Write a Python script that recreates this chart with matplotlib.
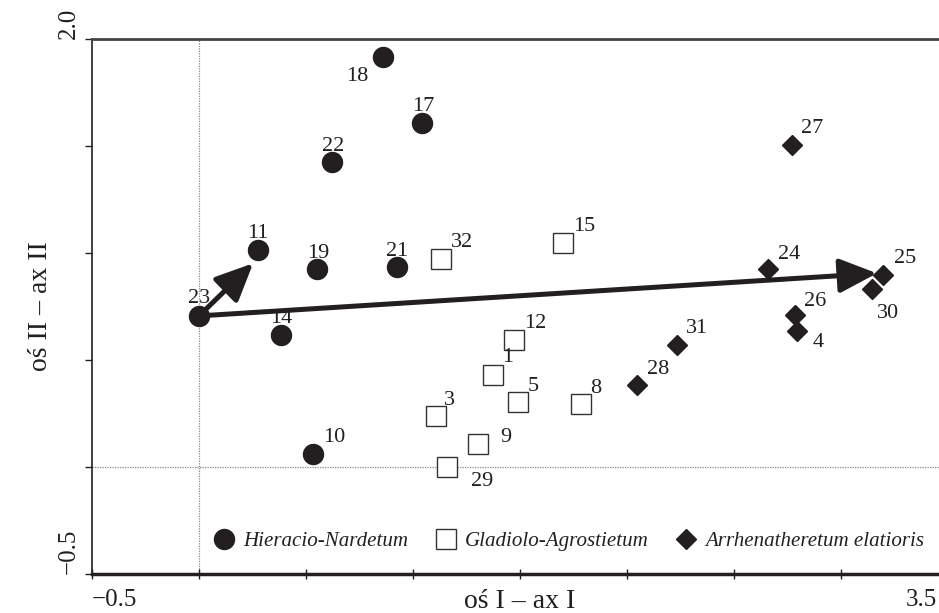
import matplotlib
matplotlib.use("Agg")
import matplotlib.pyplot as plt
import matplotlib.transforms as mtransforms
from matplotlib.lines import Line2D

# ---- data ----
hier_ids = ["18", "17", "22", "11", "19", "21", "23", "14", "10"]
hier_x = [0.860, 1.042, 0.621, 0.276, 0.551, 0.925, 0.000, 0.383, 0.533]
hier_y = [1.916, 1.607, 1.425, 1.014, 0.925, 0.935, 0.706, 0.617, 0.061]

glad_ids = ["32", "15", "12", "1", "5", "8", "3", "9", "29"]
glad_x = [1.131, 1.701, 1.472, 1.374, 1.491, 1.785, 1.107, 1.304, 1.159]
glad_y = [0.972, 1.047, 0.593, 0.430, 0.304, 0.294, 0.238, 0.107, 0.000]

arrh_ids = ["27", "24", "25", "30", "26", "4", "31", "28"]
arrh_x = [2.771, 2.659, 3.196, 3.145, 2.785, 2.794, 2.234, 2.047]
arrh_y = [1.505, 0.925, 0.897, 0.832, 0.710, 0.636, 0.570, 0.383]

vector_start = (0.0, 0.706)
vector_tips_x = [0.253, 3.168]
vector_tips_y = [0.952, 0.905]

series_names = ["Hieracio-Nardetum", "Gladiolo-Agrostietum", "Arrhenatheretum elatioris"]

x_ticks = [-0.5, 0.0, 0.5, 1.0, 1.5, 2.0, 2.5, 3.0, 3.5]
y_ticks = [-0.5, 0.0, 0.5, 1.0, 1.5, 2.0]
x_label = "oś I – ax I"
y_label = "oś II – ax II"

# label offsets in pixels (dx, dy; y up)
label_off = {
    "18": (-26, -20), "17": (1, 17), "22": (1, 16), "11": (0, 17), "19": (1, 16),
    "21": (0, 15), "23": (0, 17), "14": (0, 16), "10": (21, 16),
    "32": (21, 16), "15": (21, 16), "12": (21, 17), "1": (15, 17), "5": (15, 15),
    "8": (15, 16), "3": (14, 16), "9": (28, 7), "29": (35, -15),
    "27": (20, 16), "24": (21, 15), "25": (22, 17), "30": (16, -25), "26": (20, 14),
    "4": (21, -12), "31": (20, 17), "28": (21, 16),
}

DARK = "#231f20"
SERIF = ["Liberation Serif", "DejaVu Serif"]
plt.rcParams["font.family"] = SERIF

fig = plt.figure(figsize=(9.39, 6.13), dpi=100)
ax = fig.add_axes([92 / 939, 39 / 613, 856 / 939, 535 / 613])
ax.set_xlim(-0.5, 3.5)
ax.set_ylim(-0.5, 2.0)

# reference lines
ax.axvline(0, color="#888888", lw=0.9, ls=(0, (1, 1)), zorder=1)
ax.axhline(0, color="#888888", lw=0.9, ls=(0, (1, 1)), zorder=1)

# points
ax.plot(hier_x, hier_y, ls="none", marker="o", ms=14.4, mfc=DARK, mec=DARK, zorder=4)
ax.plot(glad_x, glad_y, ls="none", marker="s", ms=14.0, mfc="white", mec="#333333", mew=1.0, zorder=4)
ax.plot(arrh_x, arrh_y, ls="none", marker="D", ms=10.2, mfc=DARK, mec=DARK, zorder=4)

# labels
for ids, xs, ys in [(hier_ids, hier_x, hier_y), (glad_ids, glad_x, glad_y), (arrh_ids, arrh_x, arrh_y)]:
    for i, x, y in zip(ids, xs, ys):
        dx, dy = label_off[i]
        ax.annotate(i, (x, y), xytext=(dx, dy), textcoords="offset pixels",
                    ha="center", va="center", fontsize=16, color=DARK, zorder=6)

# vectors
for tx, ty in zip(vector_tips_x, vector_tips_y):
    ax.annotate("", xy=(tx, ty), xytext=vector_start,
                arrowprops=dict(arrowstyle="-|>,head_length=23,head_width=10.5",
                                mutation_scale=1, lw=3.6, color=DARK,
                                shrinkA=0, shrinkB=0), zorder=5)

# spines
ax.spines["right"].set_visible(False)
ax.spines["top"].set_color("#444444")
ax.spines["top"].set_linewidth(2.0)
ax.spines["bottom"].set_color(DARK)
ax.spines["bottom"].set_linewidth(2.5)
ax.spines["left"].set_color(DARK)
ax.spines["left"].set_linewidth(1.2)

# ticks
ax.set_xticks(x_ticks)
ax.set_xticklabels(["−0.5"] + [""] * (len(x_ticks) - 2) + ["3.5"])
ax.set_yticks(y_ticks)
ax.set_yticklabels(["−0.5"] + [""] * (len(y_ticks) - 2) + ["2.0"])
ax.tick_params(axis="x", direction="inout", length=7, width=1, color=DARK, pad=7,
               labelsize=18, labelcolor=DARK)
ax.tick_params(axis="y", direction="out", length=5, width=1, color=DARK, pad=4,
               labelsize=18, labelcolor=DARK)
xl = ax.get_xticklabels()
xl[0].set_ha("left")
xl[-1].set_ha("right")
xl[-1].set_transform(xl[-1].get_transform() +
                     mtransforms.ScaledTranslation(-11 / 100, 0, fig.dpi_scale_trans))
for lab in ax.get_yticklabels():
    lab.set_rotation(90)
    lab.set_va("bottom")
    lab.set_ha("right")

ax.set_xlabel(x_label, fontsize=20, color=DARK)
ax.set_ylabel(y_label, fontsize=20, color=DARK)
ax.xaxis.set_label_coords(0.5, -0.028)
ax.yaxis.set_label_coords(-0.045, 0.5)

# legend
handles = [
    Line2D([], [], ls="none", marker="o", ms=14.4, mfc=DARK, mec=DARK),
    Line2D([], [], ls="none", marker="s", ms=14.0, mfc="white", mec="#333333", mew=1.0),
    Line2D([], [], ls="none", marker="D", ms=10.2, mfc=DARK, mec=DARK),
]
leg = ax.legend(handles, series_names, ncol=3, loc="center", bbox_to_anchor=(0.557, 0.061),
                frameon=False, handlelength=1.0, handletextpad=0.4, columnspacing=1.3,
                prop=dict(family=SERIF, style="italic", size=15.1))
for t in leg.get_texts():
    t.set_color(DARK)

fig.savefig("out.png", dpi=100)
